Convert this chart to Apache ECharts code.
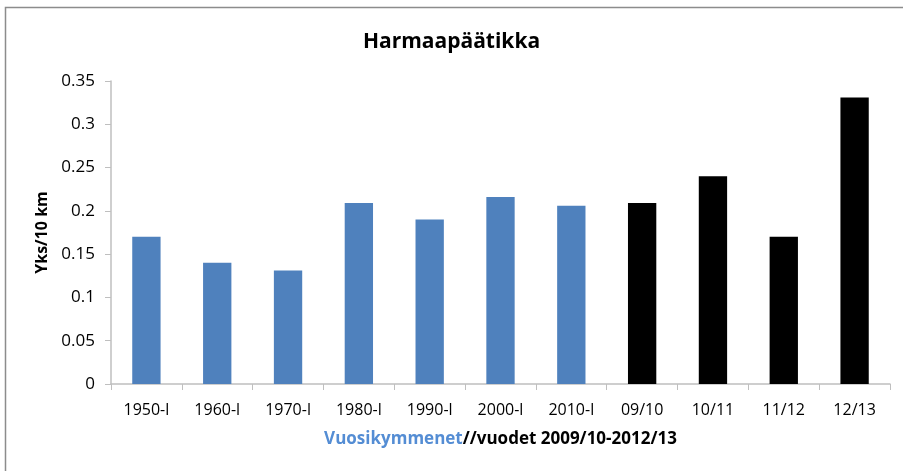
<!DOCTYPE html>
<html>
<head>
<meta charset="utf-8">
<script src="https://cdn.jsdelivr.net/npm/echarts@6/dist/echarts.min.js"></script>
<style>
  html, body { margin: 0; padding: 0; background: #fff; }
  #main { width: 903px; height: 471px; }
</style>
</head>
<body>
<div id="main"></div>
<script>
// categories: decades (blue) then single seasons (black)
const categories = ['1950-l', '1960-l', '1970-l', '1980-l', '1990-l', '2000-l', '2010-l', '09/10', '10/11', '11/12', '12/13'];
const values = [0.17, 0.14, 0.131, 0.209, 0.19, 0.216, 0.206, 0.209, 0.24, 0.17, 0.331];
const barColors = ['#4F81BD', '#4F81BD', '#4F81BD', '#4F81BD', '#4F81BD', '#4F81BD', '#4F81BD', '#000000', '#000000', '#000000', '#000000'];
const yTicks = [0, 0.05, 0.1, 0.15, 0.2, 0.25, 0.3, 0.35];

const font = 'Open Sans, Liberation Sans, sans-serif';
const chart = echarts.init(document.getElementById('main'));

chart.setOption({
  backgroundColor: '#fff',
  animation: false,
  title: {
    text: 'Harmaapäätikka',
    left: 'center',
    top: 27,
    textStyle: { fontFamily: font, fontSize: 21, fontWeight: 'bold', color: '#000' }
  },
  graphic: [
    {
      type: 'rect',
      shape: { x: 5.5, y: 7.5, width: 910, height: 480 },
      style: { fill: null, stroke: '#8c8c8c', lineWidth: 1.5 },
      silent: true
    }
  ],
  grid: { left: 111, right: 13, top: 81, bottom: 87 },
  xAxis: {
    type: 'category',
    data: categories,
    axisLine: { lineStyle: { color: '#bfbfbf', width: 1.5 } },
    axisTick: { show: true, length: 6, lineStyle: { color: '#bfbfbf' } },
    axisLabel: { color: '#000', fontFamily: font, fontSize: 16, margin: 18 },
    name: '{b|Vuosikymmenet}{k|//vuodet 2009/10-2012/13}',
    nameLocation: 'middle',
    nameGap: 47,
    nameTextStyle: {
      rich: {
        b: { color: '#548DD4', fontFamily: font, fontSize: 17, fontWeight: 'bold' },
        k: { color: '#000', fontFamily: font, fontSize: 17, fontWeight: 'bold' }
      }
    }
  },
  yAxis: {
    type: 'value',
    min: 0,
    max: yTicks[yTicks.length - 1],
    interval: 0.05,
    axisLine: { show: true, lineStyle: { color: '#bfbfbf', width: 1.5 } },
    axisTick: { show: true, length: 6, lineStyle: { color: '#bfbfbf' } },
    splitLine: { show: false },
    axisLabel: {
      color: '#000', fontFamily: font, fontSize: 17, margin: 16,
      formatter: v => String(Math.round(v * 100) / 100)
    },
    name: 'Yks/10 km',
    nameLocation: 'middle',
    nameGap: 61,
    nameTextStyle: { color: '#000', fontFamily: font, fontSize: 16, fontWeight: 'bold' }
  },
  series: [
    {
      type: 'bar',
      barWidth: '40%',
      data: values.map((v, i) => ({
        value: v,
        itemStyle: { color: barColors[i] }
      }))
    }
  ]
});
</script>
</body>
</html>
